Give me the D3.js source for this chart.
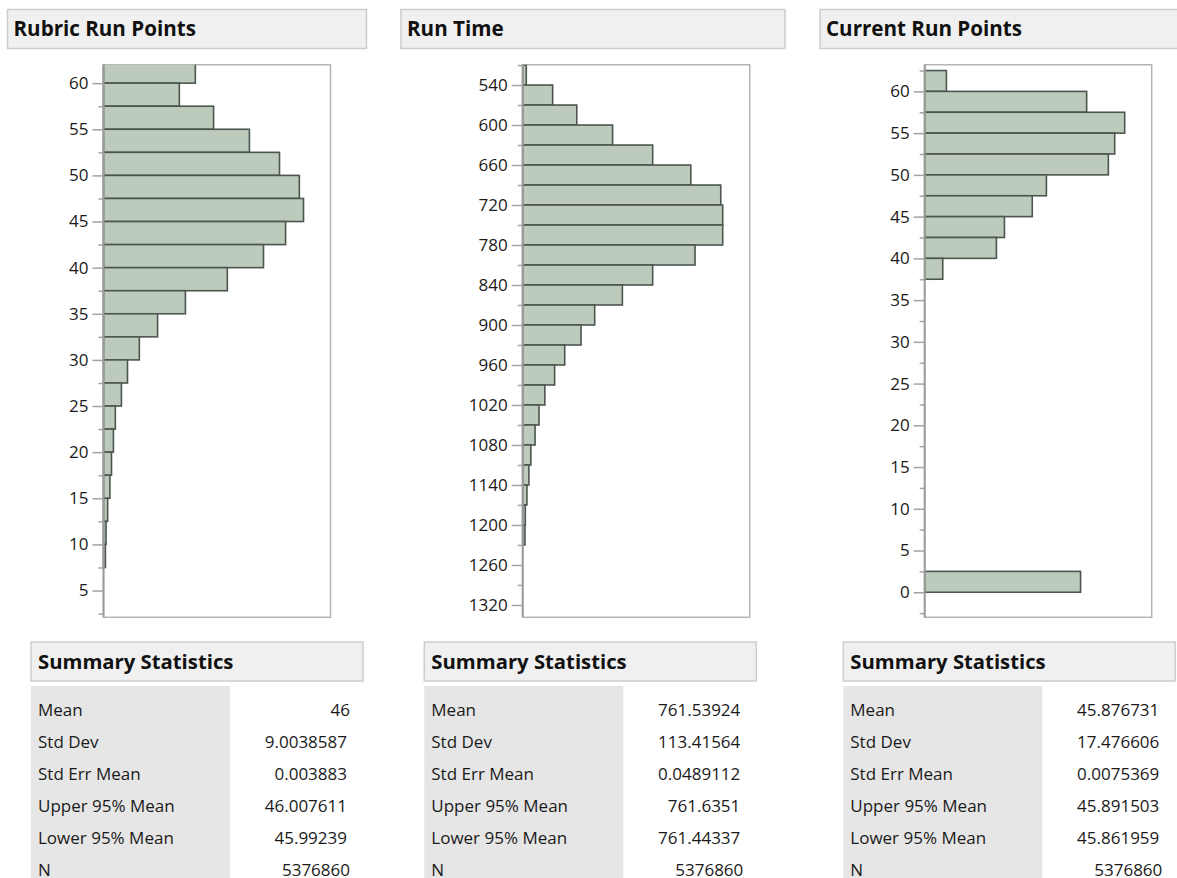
<!DOCTYPE html>
<html>
<head>
<meta charset="utf-8">
<script src="https://cdn.jsdelivr.net/npm/d3@7"></script>
<style>
  body { margin: 0; background: #fff; }
  svg { display: block; font-family: "Open Sans", "Noto Sans", sans-serif; }
</style>
</head>
<body>
<svg id="chart" width="1177" height="878"></svg>
<script>
// histogram bins: lower edge of each bin and its count (thousands)
const rubricLo = [60, 57.5, 55, 52.5, 50, 47.5, 45, 42.5, 40, 37.5, 35, 32.5, 30, 27.5, 25, 22.5, 20, 17.5, 15, 12.5, 10, 7.5];
const rubricCount = [287, 237, 344, 456, 550, 612, 625, 569, 500, 387, 256, 169, 112, 75, 56, 37, 31, 25, 20, 13, 8, 6];

const runTimeLo = [510, 540, 570, 600, 630, 660, 690, 720, 750, 780, 810, 840, 870, 900, 930, 960, 990, 1020, 1050, 1080, 1110, 1140, 1170, 1200];
const runTimeCount = [11, 92, 166, 276, 399, 516, 608, 614, 614, 529, 399, 306, 221, 179, 129, 98, 68, 50, 38, 25, 19, 13, 8, 7];

const currentLo = [60, 57.5, 55, 52.5, 50, 47.5, 45, 42.5, 40, 37.5, 0];
const currentCount = [89, 664, 820, 779, 753, 499, 441, 327, 294, 74, 639];

// axis tick labels
const rubricTicks = [5, 10, 15, 20, 25, 30, 35, 40, 45, 50, 55, 60];
const runTimeTicks = [540, 600, 660, 720, 780, 840, 900, 960, 1020, 1080, 1140, 1200, 1260, 1320];
const currentTicks = [0, 5, 10, 15, 20, 25, 30, 35, 40, 45, 50, 55, 60];

const titles = ["Rubric Run Points", "Run Time", "Current Run Points"];

const statLabels = ["Mean", "Std Dev", "Std Err Mean", "Upper 95% Mean", "Lower 95% Mean", "N"];
const rubricStats = ["46", "9.0038587", "0.003883", "46.007611", "45.99239", "5376860"];
const runTimeStats = ["761.53924", "113.41564", "0.0489112", "761.6351", "761.44337", "5376860"];
const currentStats = ["45.876731", "17.476606", "0.0075369", "45.891503", "45.861959", "5376860"];

const panels = [
  { title: titles[0], lo: rubricLo, count: rubricCount, bin: 2.5, ticks: rubricTicks, domain: [62, 2.1], stats: rubricStats,
    axisX: 103.5, headX: 7.5, headW: 359, tableX: 31 },
  { title: titles[1], lo: runTimeLo, count: runTimeCount, bin: 30, ticks: runTimeTicks, domain: [509.5, 1338.5], stats: runTimeStats,
    axisX: 522.7, headX: 401, headW: 384, tableX: 424.3 },
  { title: titles[2], lo: currentLo, count: currentCount, bin: 2.5, ticks: currentTicks, domain: [63.2, -3], stats: currentStats,
    axisX: 924.7, headX: 820, headW: 384, tableX: 843.3 }
];

const svg = d3.select('#chart');
const plotTop = 64.7, plotBottom = 617.3, plotW = 227;

panels.forEach((p, i) => {
  // title header
  svg.append('rect')
      .attr('x', p.headX).attr('y', 9.5)
      .attr('width', p.headW).attr('height', 39)
      .attr('fill', '#f0f0f0').attr('stroke', '#cdcdcd').attr('stroke-width', 1.5);
  svg.append('text')
      .attr('x', p.headX + 6).attr('y', 35.5)
      .attr('font-size', 20.6).attr('font-weight', 700).attr('fill', '#111')
      .text(p.title);

  let y = d3.scaleLinear().domain(p.domain).range([plotTop, plotBottom]);
  let x = d3.scaleLinear()
      .domain([0, d3.max(p.count) * 1.135])
      .range([p.axisX, p.axisX + plotW]);

  let g = svg.append('g');

  g.append('clipPath').attr('id', 'clip' + i)
    .append('rect')
      .attr('x', p.axisX - 2).attr('y', plotTop)
      .attr('width', plotW + 4).attr('height', plotBottom - plotTop);

  // frame
  g.append('rect')
      .attr('x', p.axisX).attr('y', plotTop)
      .attr('width', plotW).attr('height', plotBottom - plotTop)
      .attr('fill', 'none').attr('stroke', '#b3b3b3').attr('stroke-width', 1.5);

  let bins = p.lo.map((lo, j) => ({ lo: lo, hi: lo + p.bin, n: p.count[j] }));

  g.append('g').attr('clip-path', 'url(#clip' + i + ')')
    .selectAll('rect')
      .data(bins)
    .enter().append('rect')
      .attr('x', x(0))
      .attr('y', d => Math.min(y(d.lo), y(d.hi)))
      .attr('width', d => x(d.n) - x(0))
      .attr('height', d => Math.abs(y(d.hi) - y(d.lo)))
      .attr('fill', '#bccbbc')
      .attr('stroke', '#4c564e')
      .attr('stroke-width', 1.6);

  // minor ticks halfway between the majors
  let step = p.ticks[1] - p.ticks[0];
  let lowD = Math.min(p.domain[0], p.domain[1]), highD = Math.max(p.domain[0], p.domain[1]);
  let minor = d3.range(p.ticks[0] - step / 2, p.ticks[p.ticks.length - 1] + step, step)
      .filter(v => v >= lowD - 0.01 && v <= highD + 0.01);

  let minorAxis = d3.axisLeft(y).tickValues(minor).tickSize(5).tickSizeOuter(0).tickFormat('');
  let majorAxis = d3.axisLeft(y).tickValues(p.ticks).tickSize(11).tickSizeOuter(0)
      .tickPadding(4).tickFormat(d3.format('d'));

  let ga = g.append('g').attr('transform', 'translate(' + p.axisX + ',0)');
  ga.append('g').call(minorAxis);
  ga.append('g').call(majorAxis);
  ga.selectAll('.domain').remove();
  ga.selectAll('line').attr('stroke', '#a3a3a3').attr('stroke-width', 1.5);
  ga.selectAll('text')
      .attr('font-size', 17).attr('fill', '#1a1a1a')
      .attr('font-family', '"Open Sans", "Noto Sans", sans-serif');
  ga.append('line')
      .attr('x1', 0).attr('x2', 0)
      .attr('y1', plotTop).attr('y2', plotBottom)
      .attr('stroke', '#9c9c9c').attr('stroke-width', 2);

  // summary statistics table
  svg.append('rect')
      .attr('x', p.tableX).attr('y', 642)
      .attr('width', 332).attr('height', 39)
      .attr('fill', '#f0f0f0').attr('stroke', '#cdcdcd').attr('stroke-width', 1.5);
  svg.append('text')
      .attr('x', p.tableX + 7).attr('y', 669)
      .attr('font-size', 20.3).attr('font-weight', 700).attr('fill', '#111')
      .text('Summary Statistics');
  svg.append('rect')
      .attr('x', p.tableX).attr('y', 686)
      .attr('width', 199).attr('height', 200)
      .attr('fill', '#e6e6e6');

  let rows = svg.append('g').selectAll('g')
      .data(statLabels.map((l, j) => ({ label: l, value: p.stats[j] })))
    .enter().append('g')
      .attr('transform', (d, j) => 'translate(0,' + (716 + j * 32) + ')');

  rows.append('text')
      .attr('x', p.tableX + 7)
      .attr('font-size', 17).attr('fill', '#1a1a1a')
      .text(d => d.label);
  rows.append('text')
      .attr('x', d => p.tableX + (d.value.indexOf('.') < 0 ? 319 : 316))
      .attr('text-anchor', 'end')
      .attr('font-size', 17).attr('fill', '#1a1a1a')
      .text(d => d.value);
});
</script>
</body>
</html>
